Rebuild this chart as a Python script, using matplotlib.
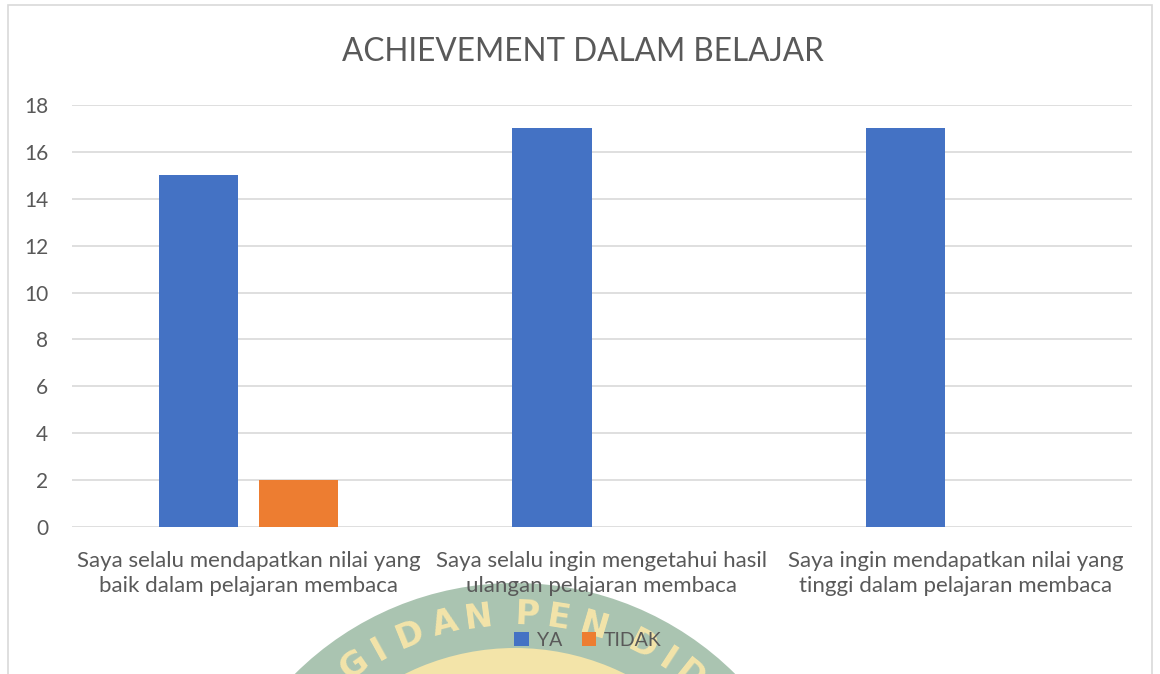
import numpy as np
import matplotlib
matplotlib.use("Agg")
import matplotlib.pyplot as plt
from matplotlib.patches import Circle, Wedge, Rectangle

# data
categories = ["Saya selalu mendapatkan nilai yang\nbaik dalam pelajaran membaca",
              "Saya selalu ingin mengetahui hasil\nulangan pelajaran membaca",
              "Saya ingin mendapatkan nilai yang\ntinggi dalam pelajaran membaca"]
series_names = ["YA", "TIDAK"]
ya = [15, 17, 17]
tidak = [2, 0, 0]
yticks = [0, 2, 4, 6, 8, 10, 12, 14, 16, 18]

plt.rcParams['font.family'] = ['Lato', 'DejaVu Sans']
txt = '#595959'

fig = plt.figure(figsize=(11.6, 6.74), dpi=100)
fig.patch.set_facecolor('white')

# faint scanned watermark behind the chart (inches, origin bottom-left)
cx, cy = 5.15, 6.74 - 8.95
fig.patches.append(Circle((cx, cy), 3.12, transform=fig.dpi_scale_trans,
                          facecolor='#aac4b1', edgecolor='none', zorder=0))
fig.patches.append(Wedge((cx, cy), 2.47, 0, 360, width=0.40, transform=fig.dpi_scale_trans,
                         facecolor='#f3e4a9', edgecolor='none', zorder=0.5))
letters = "GIDANPENDID"
angles = [-35, -29, -22, -14.5, -7.5, 2.5, 9, 16.5, 27, 33, 38.5]
for ch, a in zip(letters, angles):
    r = 2.80
    t = np.radians(a)
    fig.text(cx + r * np.sin(t), cy + r * np.cos(t), ch, transform=fig.dpi_scale_trans,
             rotation=-a, ha='center', va='center', fontsize=24, fontweight='bold',
             color='#f3e4a9', family='DejaVu Sans Condensed', zorder=0.6)

# chart border
fig.patches.append(Rectangle((8 / 1160, -0.05), 1144 / 1160, 1.05 - 5 / 674,
                             transform=fig.transFigure, facecolor='none',
                             edgecolor='#d9d9d9', linewidth=1.2, zorder=1))

ax = fig.add_axes([72 / 1160, 1 - 527 / 674, 1060 / 1160, 422 / 674])
ax.set_facecolor('none')
ax.set_zorder(2)

x = np.arange(len(categories))
w = 0.224
off = 0.1415
ax.bar(x - off, ya, w, color='#4472c4', label=series_names[0], zorder=3)
ax.bar(x + off, tidak, w, color='#ed7d31', label=series_names[1], zorder=3)

ax.set_xlim(-0.5, 2.5)
ax.set_ylim(0, 18)
ax.set_yticks(yticks)
ax.grid(axis='y', color='#d9d9d9', linewidth=1.2, zorder=0)
ax.set_axisbelow(True)
for s in ax.spines.values():
    s.set_visible(False)
ax.tick_params(axis='both', length=0, colors=txt, labelsize=15)
ax.tick_params(axis='y', pad=17)
ax.tick_params(axis='x', pad=17, labelsize=16)
ax.set_xticks(x)
ax.set_xticklabels(categories, linespacing=1.35)

fig.text(583 / 1160, 1 - 52 / 674, "ACHIEVEMENT DALAM BELAJAR", ha='center', va='center',
         fontsize=22.7, color=txt)

fig.legend(loc='center', bbox_to_anchor=(588 / 1160, 1 - 640 / 674), ncol=2, frameon=False,
           fontsize=14, handlelength=0.75, handleheight=0.75, columnspacing=1.0,
           handletextpad=0.4, labelcolor=txt)

fig.savefig('out.png', dpi=100, facecolor='white')
